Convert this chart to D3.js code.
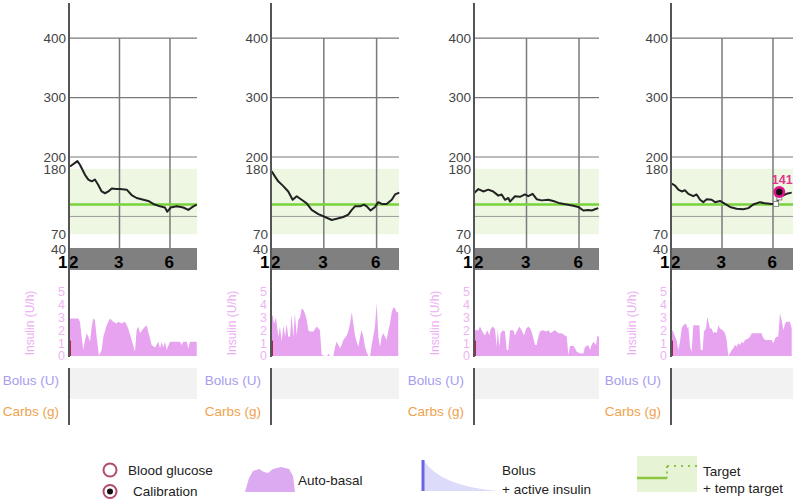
<!DOCTYPE html>
<html><head><meta charset="utf-8">
<script src="https://cdn.jsdelivr.net/npm/d3@7"></script>
<style>body{margin:0;background:#fff}svg{display:block}text{font-family:"Liberation Sans",Arial,sans-serif}</style>
</head><body><svg id="c" width="793" height="501"></svg>
<script>
// ---------- DATA ----------
const glucoseTicks = [400, 300, 200, 180, 70, 40];
const glucoseGrid = [400, 300, 200];
const lowLine = 100;
const targetValue = 120;
const targetRange = [70, 180];
const hourTicks = [0, 3, 6];
const hourTickLabels = ["12", "3", "6"];
const insulinTicks = [0, 1, 2, 3, 4, 5];

const glucose1 = [[0.06,184],[0.5,193],[0.65,187],[0.95,170],[1.15,162],[1.35,159],[1.54,162],[1.74,153],[1.94,142],[2.14,139],[2.34,142],[2.54,147],[2.8,146],[3.03,146],[3.43,145],[3.72,136],[4.02,131],[4.42,128],[4.71,126],[5.01,121],[5.41,117],[5.7,115],[5.84,108],[6.04,115],[6.4,117],[6.79,115],[7.09,111],[7.39,117],[7.59,120]];
const glucose2 = [[0.04,176],[0.23,167],[0.41,159],[0.7,151],[0.98,142],[1.23,128],[1.46,134],[1.74,128],[2.03,122],[2.31,111],[2.69,104],[3.07,99],[3.45,94],[3.73,96],[4.11,99],[4.39,103],[4.59,111],[4.77,117],[5.06,117],[5.28,120],[5.44,117],[5.66,110],[5.91,116],[6.1,124],[6.29,121],[6.57,121],[6.86,128],[7.05,137],[7.29,140]];
const glucose3 = [[0.0,139],[0.25,146],[0.53,142],[0.82,145],[1.1,142],[1.39,135],[1.58,137],[1.77,128],[1.96,131],[2.06,125],[2.34,134],[2.63,133],[2.91,137],[3.1,134],[3.35,138],[3.58,129],[3.87,127],[4.25,128],[4.63,125],[4.91,122],[5.3,120],[5.67,118],[5.96,116],[6.25,110],[6.53,111],[6.73,110],[6.91,112],[7.1,114]];
const glucose4 = [[0.04,155],[0.24,152],[0.43,145],[0.63,142],[0.82,144],[1.02,138],[1.31,134],[1.51,137],[1.71,128],[1.9,124],[2.1,129],[2.39,128],[2.59,124],[2.88,126],[3.18,121],[3.47,116],[3.86,113],[4.25,112],[4.55,114],[4.84,120],[5.24,124],[5.53,122],[5.92,121],[6.18,121],[6.37,132],[6.51,134],[6.8,138],[7.1,140]];
const calibration4 = {h: 6.37, v: 141, label: "141"};
const sensorSquares4 = [[6.18,121],[6.37,132]];

const insulin1 = [[0,0],[0.02,2.9],[0.25,2.92],[0.55,2.92],[0.65,2.66],[0.75,1.5],[0.85,0.47],[0.95,1.24],[1.05,1.76],[1.15,1.5],[1.25,1.11],[1.35,2.27],[1.44,2.92],[1.54,2.79],[1.64,1.5],[1.78,0],[1.94,0.47],[2.04,1.5],[2.24,2.4],[2.44,2.92],[2.63,2.66],[2.83,2.53],[2.93,2.66],[3.13,2.53],[3.33,2.66],[3.52,2.14],[3.72,1.24],[3.92,0.34],[4.02,2.02],[4.12,2.27],[4.22,1.76],[4.42,2.14],[4.61,2.4],[4.71,1.89],[4.91,0.85],[5.11,0.67],[5.31,1.11],[5.41,0.59],[5.5,1.11],[5.6,0.67],[5.7,1.11],[5.8,0.47],[6.0,1.11],[6.3,1.11],[6.59,1.11],[6.69,0.85],[6.79,1.11],[6.99,1.11],[7.09,0.59],[7.19,1.11],[7.59,1.11]];
const insulin2 = [[0,0],[0.02,3.0],[0.09,3.18],[0.17,2.5],[0.28,3.0],[0.42,1.5],[0.51,2.27],[0.61,1.1],[0.7,2.4],[0.8,1.5],[0.89,2.5],[0.98,1.5],[1.08,1.5],[1.17,3.2],[1.27,1.5],[1.36,3.3],[1.46,1.6],[1.55,2.8],[1.65,3.0],[1.74,3.7],[1.84,3.6],[1.93,3.3],[2.03,2.8],[2.12,2.0],[2.22,1.9],[2.41,1.9],[2.5,2.1],[2.6,2.3],[2.78,2.0],[2.88,0.08],[3.07,0],[3.2,0],[3.26,0.2],[3.35,0],[3.54,0],[3.64,0.7],[3.73,1.1],[3.83,0.85],[3.92,0.6],[4.02,0.85],[4.11,1.24],[4.3,1.6],[4.39,1.9],[4.49,2.5],[4.59,3.4],[4.68,2.5],[4.77,1.6],[4.87,1.1],[4.96,0.7],[5.06,1.5],[5.15,2.0],[5.25,1.5],[5.34,0.7],[5.44,0.3],[5.53,0],[5.63,0],[5.72,0.85],[5.81,1.5],[5.91,2.3],[6.0,4.1],[6.1,1.5],[6.19,0.7],[6.29,1.5],[6.38,1.76],[6.48,1.5],[6.57,1.24],[6.67,2.0],[6.76,2.5],[6.86,3.4],[6.95,3.8],[7.05,3.7],[7.14,3.4],[7.23,3.4]];
const insulin3 = [[0,0],[0.02,2.0],[0.25,2.0],[0.34,2.3],[0.44,2.0],[0.53,1.76],[0.63,1.6],[0.76,2.0],[0.88,1.6],[0.95,2.1],[1.07,2.3],[1.2,2.1],[1.3,0.7],[1.35,2.1],[1.45,0.7],[1.52,1.76],[1.64,2.0],[1.77,1.9],[1.87,0.47],[1.96,0.47],[2.06,2.0],[2.25,2.0],[2.34,1.6],[2.48,2.0],[2.59,2.3],[2.72,2.0],[2.86,1.6],[2.97,2.1],[3.1,2.3],[3.24,2.1],[3.35,1.6],[3.49,0.85],[3.58,0.85],[3.68,1.5],[3.77,1.9],[3.92,2.0],[4.15,1.9],[4.25,2.0],[4.38,1.76],[4.5,1.9],[4.63,2.0],[4.82,1.76],[5.01,1.76],[5.2,1.6],[5.3,1.5],[5.39,0.08],[5.49,0.78],[5.68,0.78],[5.77,0.6],[5.87,0.34],[6.06,0.2],[6.25,0.2],[6.34,0.7],[6.53,0.85],[6.63,0.47],[6.72,0.85],[6.82,1.1],[6.97,0.85],[7.06,1.6],[7.14,1.5]];
const insulin4 = [[0,0],[0.02,1.9],[0.1,2.0],[0.24,1.5],[0.33,1.24],[0.43,0.47],[0.53,1.1],[0.63,2.14],[0.72,2.4],[0.88,2.53],[0.96,2.14],[1.02,2.27],[1.12,0.7],[1.22,0.34],[1.31,2.4],[1.51,2.4],[1.67,2.4],[1.75,0.47],[1.86,0.47],[1.94,1.9],[2.06,2.14],[2.14,3.05],[2.2,2.66],[2.29,2.14],[2.39,2.14],[2.49,1.76],[2.59,1.89],[2.69,1.76],[2.78,2.4],[2.88,2.14],[3.04,2.0],[3.18,1.76],[3.27,1.24],[3.37,0],[3.47,0.2],[3.57,0.47],[3.67,0.6],[3.76,0.85],[3.86,0.72],[3.96,1.0],[4.06,0.85],[4.16,1.1],[4.25,1.0],[4.35,1.24],[4.55,1.37],[4.65,1.5],[4.75,1.76],[4.94,1.76],[5.14,1.76],[5.33,1.76],[5.39,1.5],[5.53,1.24],[5.73,1.24],[5.92,1.24],[6.02,1.0],[6.12,1.37],[6.22,1.5],[6.31,1.5],[6.41,3.3],[6.51,2.8],[6.61,2.0],[6.71,2.53],[6.8,2.66],[7.0,2.66],[7.1,2.14]];

const glucoseDays = [glucose1, glucose2, glucose3, glucose4];
const insulinDays = [insulin1, insulin2, insulin3, insulin4];

const legendLabels = {bg: "Blood glucose", cal: "Calibration", basal: "Auto-basal", bolus1: "Bolus", bolus2: "+ active insulin", target1: "Target", target2: "+ temp target"};

// ---------- LAYOUT ----------
const panelX0 = [69, 271, 474, 671];
const panelX1 = [197, 399, 599, 793];
const pxPerHour = [16.83, 17.6, 17.5, 17.0];

const svg = d3.select("#c");
const gy = d3.scaleLinear().domain([40, 459]).range([252.1, 3]);
const iy = d3.scaleLinear().domain([0, 5]).range([356, 291.7]);

panelX0.forEach((x0, i) => {
  const x1 = panelX1[i];
  const xs = d3.scaleLinear().domain([0, (x1 - x0) / pxPerHour[i]]).range([x0, x1]);
  const g = svg.append("g");

  g.append("rect").attr("x", x0).attr("width", x1 - x0)
    .attr("y", gy(targetRange[1])).attr("height", gy(targetRange[0]) - gy(targetRange[1]))
    .attr("fill", "#eef7e2");
  g.selectAll(".hg").data(glucoseGrid).join("line")
    .attr("x1", x0).attr("x2", x1).attr("y1", d => gy(d)).attr("y2", d => gy(d))
    .attr("stroke", "#7a7a7a").attr("stroke-width", 1.2);
  g.append("line").attr("x1", x0).attr("x2", x1).attr("y1", gy(lowLine)).attr("y2", gy(lowLine))
    .attr("stroke", "#9a9a9a").attr("stroke-width", 1);
  g.selectAll(".vg").data(hourTicks.slice(1)).join("line")
    .attr("x1", d => xs(d)).attr("x2", d => xs(d)).attr("y1", gy(400)).attr("y2", 248)
    .attr("stroke", "#7a7a7a").attr("stroke-width", 1.5);
  g.append("line").attr("x1", x0).attr("x2", x1).attr("y1", gy(targetValue)).attr("y2", gy(targetValue))
    .attr("stroke", "#78d23c").attr("stroke-width", 2.5);
  g.append("path").datum(glucoseDays[i])
    .attr("d", d3.line().x(d => xs(d[0])).y(d => gy(d[1])))
    .attr("fill", "none").attr("stroke", "#222").attr("stroke-width", 2).attr("stroke-linejoin", "round");

  g.append("rect").attr("x", x0).attr("width", x1 - x0).attr("y", 248).attr("height", 22).attr("fill", "#808080");
  g.selectAll(".xt").data(hourTicks).join("text")
    .attr("x", d => xs(d)).attr("y", 268).attr("text-anchor", "middle")
    .attr("font-size", 17).attr("font-weight", "bold").attr("letter-spacing", 1.5).attr("fill", "#000")
    .text((d, k) => hourTickLabels[k]);
  g.selectAll(".yt").data(glucoseTicks).join("text")
    .attr("x", x0 - 3).attr("y", d => d === 40 ? gy(d) - 3 : gy(d)).attr("dy", "0.35em").attr("text-anchor", "end")
    .attr("font-size", 13.5).attr("fill", "#444").text(d => d);

  g.append("path").datum(insulinDays[i])
    .attr("d", d3.area().x(d => xs(d[0])).y0(iy(0)).y1(d => iy(d[1])))
    .attr("fill", "#e7a2f0");
  g.append("rect").attr("x", x0).attr("width", 2).attr("y", iy(1.2)).attr("height", iy(0) - iy(1.2)).attr("fill", "#a3284a");
  g.selectAll(".it").data(insulinTicks).join("text")
    .attr("x", x0 - 4).attr("y", d => iy(d)).attr("dy", "0.35em").attr("text-anchor", "end")
    .attr("font-size", 12.5).attr("fill", "#f0b4f2").text(d => d);
  g.append("text").attr("transform", `translate(${x0 - 39},323) rotate(-90)`)
    .attr("text-anchor", "middle").attr("dy", "0.35em").attr("font-size", 12)
    .attr("fill", "#ecaef2").text("Insulin (U/h)");

  g.append("rect").attr("x", x0).attr("width", x1 - x0).attr("y", 368).attr("height", 31).attr("fill", "#f2f2f2");
  g.append("text").attr("x", x0 - 10).attr("y", 380).attr("dy", "0.35em").attr("text-anchor", "end")
    .attr("font-size", 13.5).attr("fill", "#a79cf0").text("Bolus (U)");
  g.append("text").attr("x", x0 - 10).attr("y", 411).attr("dy", "0.35em").attr("text-anchor", "end")
    .attr("font-size", 13.5).attr("fill", "#eea24e").text("Carbs (g)");

  g.append("line").attr("x1", x0).attr("x2", x0).attr("y1", 3).attr("y2", 357).attr("stroke", "#555").attr("stroke-width", 2);
  g.append("line").attr("x1", x0).attr("x2", x0).attr("y1", 368).attr("y2", 425).attr("stroke", "#555").attr("stroke-width", 2);

  if (i === 3) {
    g.selectAll(".sq").data(sensorSquares4).join("rect")
      .attr("x", d => xs(d[0]) - 2.5).attr("y", d => gy(d[1]) - 2.5).attr("width", 5).attr("height", 5)
      .attr("fill", "#fff").attr("stroke", "#888").attr("stroke-width", 1);
    g.append("circle").attr("cx", xs(calibration4.h)).attr("cy", gy(calibration4.v)).attr("r", 6)
      .attr("fill", "#e0148c");
    g.append("circle").attr("cx", xs(calibration4.h)).attr("cy", gy(calibration4.v)).attr("r", 3.2)
      .attr("fill", "#111");
    g.append("text").attr("x", xs(calibration4.h) + 3).attr("y", gy(calibration4.v) - 8)
      .attr("text-anchor", "middle").attr("font-size", 12.5).attr("font-weight", "bold")
      .attr("fill", "#e0358f").text(calibration4.label);
  }
});

// ---------- LEGEND ----------
const L = svg.append("g").attr("font-size", 13.5).attr("fill", "#222");
L.append("circle").attr("cx", 110).attr("cy", 470).attr("r", 6.5).attr("fill", "#fff").attr("stroke", "#b04a6e").attr("stroke-width", 2);
L.append("circle").attr("cx", 110).attr("cy", 491.5).attr("r", 6.5).attr("fill", "#fff").attr("stroke", "#b04a6e").attr("stroke-width", 2);
L.append("circle").attr("cx", 110).attr("cy", 491.5).attr("r", 3).attr("fill", "#111");
L.append("text").attr("x", 128).attr("y", 470).attr("dy", "0.35em").text(legendLabels.bg);
L.append("text").attr("x", 133).attr("y", 491.5).attr("dy", "0.35em").text(legendLabels.cal);

L.append("path").attr("d", "M245,492 L249,478 L253,471 L259,469 L264,472 L268,473 L273,469 L281,467 L289,469 L293,476 L295,492 Z").attr("fill", "#dcaaf0");
L.append("text").attr("x", 298).attr("y", 480.5).attr("dy", "0.35em").text(legendLabels.basal);

L.append("path").attr("d", "M424,461 Q441,486 497,491 L424,491 Z").attr("fill", "#dcdcfa");
L.append("line").attr("x1", 423).attr("x2", 423).attr("y1", 460).attr("y2", 491).attr("stroke", "#6c63e6").attr("stroke-width", 3);
L.append("text").attr("x", 502).attr("y", 470).attr("dy", "0.35em").text(legendLabels.bolus1);
L.append("text").attr("x", 502).attr("y", 489).attr("dy", "0.35em").text(legendLabels.bolus2);

L.append("rect").attr("x", 637).attr("y", 456).attr("width", 60).attr("height", 36).attr("fill", "#e6f4d5");
L.append("line").attr("x1", 637).attr("x2", 667).attr("y1", 478).attr("y2", 478).attr("stroke", "#8cc63f").attr("stroke-width", 2.5);
L.append("line").attr("x1", 667).attr("x2", 667).attr("y1", 466).attr("y2", 478).attr("stroke", "#8cc63f").attr("stroke-width", 2).attr("stroke-dasharray", "2,3.5");
L.append("line").attr("x1", 667).attr("x2", 697).attr("y1", 466).attr("y2", 466).attr("stroke", "#8cc63f").attr("stroke-width", 2).attr("stroke-dasharray", "2,5");
L.append("text").attr("x", 703).attr("y", 471).attr("dy", "0.35em").text(legendLabels.target1);
L.append("text").attr("x", 703).attr("y", 488).attr("dy", "0.35em").text(legendLabels.target2);
</script></body></html>
